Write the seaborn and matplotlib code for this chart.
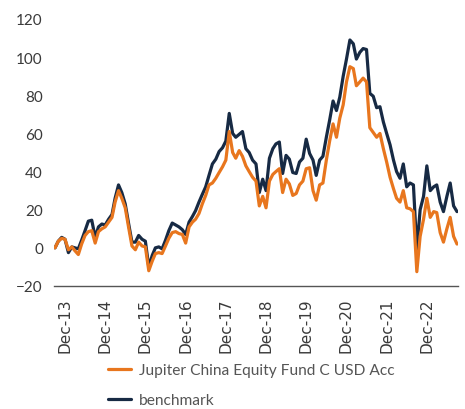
import numpy as np
import pandas as pd
import matplotlib
matplotlib.use("Agg")
import matplotlib.pyplot as plt
import matplotlib.dates as mdates
import seaborn as sns

start_month = "2013-09-01"
fund = [0, 3.5, 5, 4.5, -1, 0.5, -1.5, -3.5, 2, 6.5, 8.5, 9, 2.5, 8.5, 10, 11, 13.5, 16, 24, 30,
        26, 21, 11, 1, -1, 3, 1, 0.5, -12, -7, -3, -2.5, -3, 1, 5, 8, 8.5, 7.5, 7, 2.5,
        11, 13.5, 15, 18, 23, 27.5, 33, 34, 36.5, 39.5, 42.5, 46, 61, 50, 47, 51, 48, 43, 40, 37,
        35, 22, 27, 21, 35, 38.5, 40, 41.5, 29, 36, 33.5, 27.5, 28.5, 33, 35, 41.5, 42, 30, 25, 33,
        34, 46, 56, 65, 58, 68, 75, 87, 95, 94, 85, 87, 89, 87, 63, 60.5, 58, 60, 52, 45,
        37, 31, 26, 24, 30, 21, 20.5, 19, -12.5, 6, 15, 26, 16, 19, 18.5, 8, 3, 10, 16, 6, 2]
benchmark = [0, 3.5, 5.5, 4.5, -2.5, 0.5, 0, -0.5, 4, 9, 14, 14.5, 5.5, 11, 12.5, 12, 15, 17.5, 26, 33,
             29, 23, 13, 3, 3, 6.5, 4.5, 3.5, -10, -4, 0, 0.5, -0.5, 4, 9, 13, 12, 11, 9.5, 7,
             13.5, 16.5, 19.5, 24, 28, 32, 38, 44, 46.5, 50.5, 52.5, 56, 70.5, 60, 58, 59.5, 61, 52, 50, 46,
             44, 29, 36, 30, 47, 52, 54.5, 55.5, 39, 48.5, 46.5, 39.5, 39, 45, 47, 57, 49.5, 46, 38, 46,
             48, 58, 67, 77, 72, 79, 90, 99, 109, 107, 99, 102.5, 104.5, 104, 81, 79.5, 73.5, 74, 66, 60,
             54, 46, 40, 36.5, 44, 32, 34, 33, -1, 20, 27, 43, 30, 32, 33, 24, 19, 27, 34, 22, 19]
tick_years = list(range(2013, 2023))
labels = ["Jupiter China Equity Fund C USD Acc", "benchmark"]

dates = pd.date_range(start_month, periods=len(fund), freq="MS")
df = pd.DataFrame({"date": dates, "fund": fund, "benchmark": benchmark})

sns.set_style("white")
plt.rcParams["font.family"] = ["Lato", "DejaVu Sans"]

fig = plt.figure(figsize=(4.65, 4.10), dpi=100)
ax = fig.add_axes([54/465, 1-287/410, (458-54)/465, (287-20)/410])

orange = "#E8761E"
navy = "#172A44"
sns.lineplot(data=df, x="date", y="benchmark", ax=ax, color=navy, linewidth=2.3, label=labels[1])
sns.lineplot(data=df, x="date", y="fund", ax=ax, color=orange, linewidth=2.3, label=labels[0])

ax.set_ylim(-20, 120)
ax.set_yticks(range(-20, 121, 20))
ax.set_xlim(dates[0] - pd.Timedelta(days=9), dates[-1] + pd.Timedelta(days=9))
ticks = [pd.Timestamp(f"{y}-12-01") for y in tick_years]
ax.set_xticks(ticks)
ax.set_xticklabels([f"Dec-{str(y)[2:]}" for y in tick_years], rotation=90,
                   family=["Liberation Sans Narrow", "DejaVu Sans"], fontsize=11, color="#3a3a3a")
ax.set_xlabel("")
ax.set_ylabel("")
for s in ["top", "right", "left"]:
    ax.spines[s].set_visible(False)
ax.spines["bottom"].set_color("#555555")
ax.spines["bottom"].set_linewidth(1.0)
ax.tick_params(axis="x", length=4, width=1, color="#555555", pad=4)
ax.tick_params(axis="y", length=0, pad=8, labelsize=11, labelcolor="#3a3a3a")

h, l = ax.get_legend_handles_labels()
ax.get_legend().remove()
order = [l.index(labels[0]), l.index(labels[1])]
leg = fig.legend([h[i] for i in order], [l[i] for i in order], loc="upper left",
                 bbox_to_anchor=(108/465, 1-364/410), frameon=False, fontsize=11.2,
                 handlelength=1.5, handletextpad=0.5, labelspacing=1.05, borderpad=0,
                 borderaxespad=0)
for t in leg.get_texts():
    t.set_color("#555555")

fig.savefig("out.png", dpi=100)
